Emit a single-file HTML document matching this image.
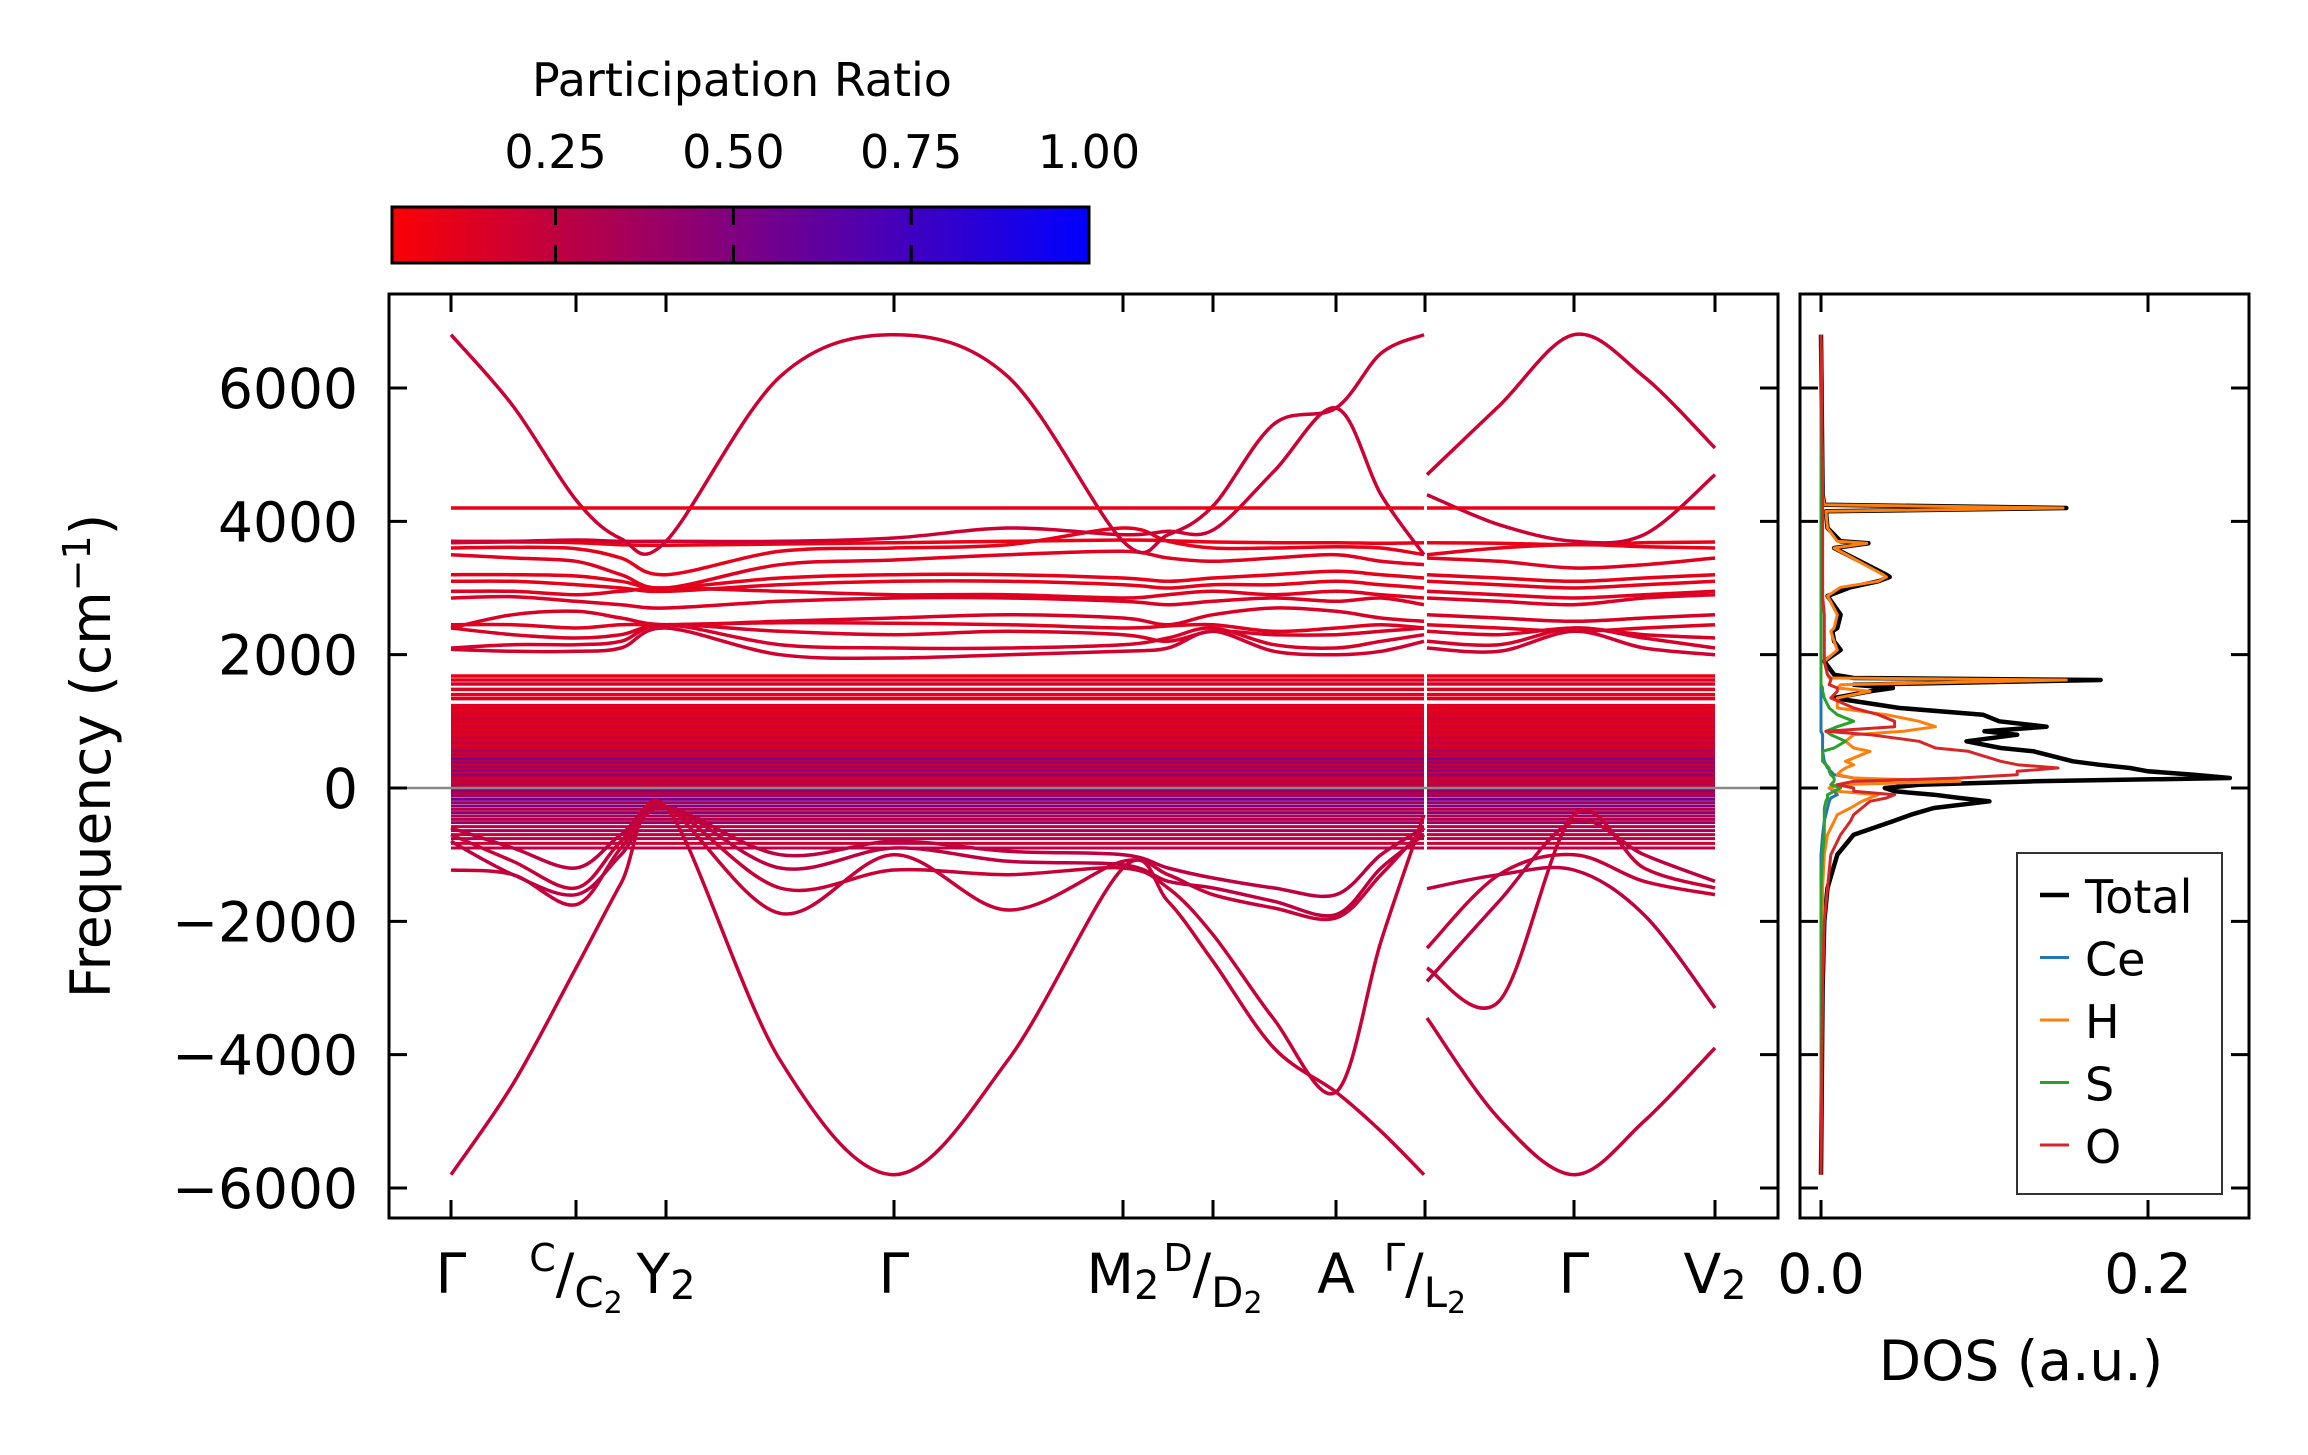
<!DOCTYPE html>
<html><head><meta charset="utf-8"><style>
html,body{margin:0;padding:0;background:#fff;}
svg{display:block;font-family:"DejaVu Sans","Liberation Sans",sans-serif;}
</style></head><body>
<svg id="fig" width="2308" height="1455" viewBox="0 0 2308 1455" xmlns="http://www.w3.org/2000/svg">
<defs><linearGradient id="cmap" x1="0" x2="1" y1="0" y2="0"><stop offset="0" stop-color="rgb(250,0,5)"/><stop offset="1" stop-color="rgb(0,0,255)"/></linearGradient>
<clipPath id="clipMain"><rect x="389" y="294" width="1389" height="924"/></clipPath>
<clipPath id="clipDos"><rect x="1800" y="294" width="449" height="924"/></clipPath></defs>
<g id="colorbar">
<text x="742" y="96" font-size="46" text-anchor="middle">Participation Ratio</text>
<rect x="392" y="207" width="697" height="56" fill="url(#cmap)" stroke="#000" stroke-width="3"/>
</g>
<g id="bands" clip-path="url(#clipMain)"></g>
<g id="dos" clip-path="url(#clipDos)"></g>
<g id="axes"></g>
</svg>
<script>
const NS="http://www.w3.org/2000/svg";
// ---- data ----
const kTicks=[0,125,215,443,672,762,885,974,1123,1264];
const kA=[0,62,125,170,215,329,443,557,672,717,762,823,885,930,974];
const kB=[974,1048,1123,1193,1264];
const yTicks=[-6000,-4000,-2000,0,2000,4000,6000];
const cbTicks=[0.25,0.5,0.75,1.0];
const cbTickLabels=["0.25","0.50","0.75","1.00"];
const dosTicks=[0.0,0.2];
const dosTickLabels=["0.0","0.2"];
const dispA=[
[6800,5730,4320,3740,3700,6170,6800,6170,3700,3800,4230,5460,5700,6520,6800],
[3700,3700,3720,3700,3700,3700,3750,3900,3800,3850,3870,4750,5700,4400,3500],
[4200,4200,4200,4200,4200,4200,4200,4200,4200,4200,4200,4200,4200,4200,4200],
[-5800,-4440,-2700,-1430,-280,-4080,-5800,-4080,-1200,-1700,-2600,-3900,-4560,-5150,-5800],
[-1230,-1300,-1750,-900,-280,-1500,-1230,-1300,-1200,-1500,-2200,-3470,-4560,-2300,-400],
[-700,-1100,-1500,-800,-280,-1880,-1000,-1830,-1100,-1300,-1600,-1800,-1950,-1300,-600],
[-800,-1300,-1600,-1000,-280,-1200,-900,-1100,-1150,-1400,-1500,-1700,-1900,-1200,-700],
[-600,-900,-1200,-700,-280,-1000,-800,-950,-1000,-1200,-1350,-1500,-1600,-1000,-600]
];
const dispB=[
[4700,5730,6800,6170,5100],
[4400,3950,3700,3800,4700],
[4200,4200,4200,4200,4200],
[-3450,-4960,-5800,-5000,-3900],
[-2400,-1300,-1000,-1400,-1600],
[-2700,-3200,-400,-1200,-1500],
[-2900,-1700,-500,-1000,-1400],
[-1510,-1300,-1230,-1900,-3300]
];
const dispPR=[0.2,0.2,0.08,0.22,0.22,0.22,0.25,0.25];
const upperA=[
[3680,3690,3680,3650,3640,3660,3680,3700,3720,3710,3690,3680,3680,3670,3680],
[3600,3610,3590,3450,3200,3550,3600,3650,3900,3700,3600,3600,3620,3600,3500],
[3500,3450,3400,3200,3000,3350,3420,3500,3550,3450,3400,3450,3500,3400,3350],
[3200,3200,3180,3100,3000,3150,3200,3200,3150,3100,3150,3200,3250,3200,3150],
[3100,3100,3050,3000,2950,3050,3100,3100,3050,3000,3050,3050,3100,3050,3000],
[2950,2950,2900,2950,3000,2950,2900,2900,2850,2900,2950,2900,2950,2900,2850],
[2850,2870,2800,2750,2700,2800,2850,2850,2800,2750,2800,2850,2800,2850,2750],
[2400,2600,2650,2550,2450,2500,2550,2600,2550,2450,2600,2700,2650,2550,2500],
[2450,2450,2400,2450,2450,2480,2470,2450,2400,2430,2450,2350,2400,2450,2400],
[2400,2300,2250,2300,2450,2350,2300,2350,2300,2200,2350,2300,2300,2350,2400],
[2100,2150,2150,2200,2450,2150,2100,2100,2150,2250,2400,2150,2100,2200,2300],
[2080,2050,2050,2100,2400,2000,1950,2000,2050,2100,2350,2050,2000,2050,2200]
];
const upperB=[
[3680,3670,3650,3680,3690],[3500,3600,3650,3620,3600],[3450,3400,3300,3350,3450],
[3200,3150,3100,3150,3200],[3100,3050,3000,3050,3100],[2950,2900,2850,2900,2950],
[2850,2800,2750,2850,2900],[2600,2550,2500,2550,2600],[2450,2400,2350,2400,2450],
[2350,2300,2400,2300,2250],[2200,2150,2400,2250,2100],[2100,2050,2350,2100,2000]
];
const upperPR=[0.08,0.1,0.12,0.1,0.1,0.12,0.14,0.15,0.12,0.15,0.16,0.18];
const flatLevels=[1680,1620,1560,1480,1400,1340];
const flatPR=[0.08,0.12,0.15,0.12,0.1,0.15];
const denseLevels=[-900,-830,-760,-700,-640,-580,-520,-470,-420,-370,-320,-270,-220,-170,-120,-80,-40,0,30,60,90,120,150,180,210,240,270,300,330,360,390,420,450,480,510,540,570,600,640,680,720,760,800,840,880,920,960,1000,1040,1080,1120,1160,1200,1240];
const densePR=[0.25,0.2,0.3,0.22,0.35,0.25,0.4,0.3,0.35,0.45,0.3,0.5,0.35,0.55,0.4,0.3,0.45,0.25,0.2,0.3,0.2,0.25,0.2,0.3,0.45,0.2,0.5,0.25,0.4,0.2,0.45,0.25,0.55,0.2,0.3,0.2,0.35,0.2,0.15,0.25,0.15,0.2,0.12,0.18,0.12,0.2,0.1,0.15,0.2,0.12,0.15,0.1,0.15,0.12];
const dosFreq=[-5800,-3000,-2000,-1500,-1000,-700,-500,-400,-300,-200,-150,-100,-50,0,50,100,150,200,250,300,350,400,550,600,700,800,850,920,1000,1100,1200,1350,1450,1500,1550,1620,1650,1700,1900,2070,2200,2350,2400,2600,2880,3010,3100,3165,3200,3600,3670,3700,3900,4150,4200,4250,4400,6800];
const dosTotal=[0,0.001,0.002,0.004,0.010,0.020,0.044,0.055,0.069,0.103,0.085,0.069,0.045,0.039,0.06,0.130,0.250,0.228,0.2,0.189,0.17,0.154,0.130,0.11,0.089,0.120,0.1,0.138,0.109,0.099,0.048,0.008,0.03,0.044,0.02,0.171,0.02,0.008,0.002,0.012,0.008,0.007,0.010,0.012,0.004,0.018,0.035,0.042,0.040,0.008,0.029,0.012,0.004,0.003,0.150,0.002,0.001,0];
const dosCe=[0,0,0,0,0,0.001,0.002,0.003,0.004,0.005,0.006,0.010,0.008,0.005,0.01,0.043,0.020,0.008,0.006,0.004,0.003,0.002,0.001,0.001,0.001,0.001,0,0,0,0,0,0,0,0,0,0,0,0,0,0,0,0,0,0,0,0,0,0,0,0,0,0,0,0,0,0,0,0];
const dosH=[0,0,0.001,0.001,0.002,0.004,0.008,0.010,0.018,0.025,0.030,0.035,0.010,0.005,0.010,0.085,0.020,0.010,0.012,0.015,0.02,0.015,0.030,0.02,0.015,0.020,0.05,0.070,0.060,0.040,0.010,0.010,0.030,0.010,0.012,0.150,0.005,0.004,0.002,0.010,0.008,0.006,0.008,0.010,0.004,0.012,0.035,0.040,0.038,0.008,0.028,0.010,0.004,0.003,0.148,0.002,0.001,0];
const dosS=[0,0,0,0,0.001,0.002,0.002,0.002,0.002,0.003,0.004,0.004,0.008,0.012,0.006,0.008,0.008,0.006,0.005,0.005,0.003,0.001,0.001,0.008,0.015,0.006,0.003,0.010,0.020,0.010,0.005,0.002,0.001,0.001,0,0,0,0,0,0,0,0,0,0,0,0,0,0,0,0,0,0,0,0,0,0,0,0];
const dosO=[0,0.001,0.002,0.004,0.006,0.012,0.018,0.020,0.025,0.030,0.040,0.045,0.020,0.020,0.010,0.020,0.085,0.12,0.120,0.145,0.12,0.110,0.090,0.07,0.060,0.030,0.003,0.045,0.045,0.035,0.020,0.006,0.010,0.010,0.005,0.006,0.006,0.004,0.002,0.002,0.002,0.002,0.002,0.002,0.001,0.001,0.001,0.001,0.001,0.001,0.001,0.001,0.001,0.001,0.001,0.001,0.001,0];
const dosColors=["#000000","#1f77b4","#ff7f0e","#2ca02c","#d62728"];
const dosNames=["Total","Ce","H","S","O"];
// ---- scales ----
const X=k=>451+k*(1715-451)/1264;
const Y=f=>788-f*800/12000;
const DX=v=>1821+v*1635;
const cbX=v=>392+(v-0.02)*697/0.98;
function cmap(p){const t=Math.max(0,Math.min(1,(p-0.02)/0.98));return `rgb(${Math.round(250*(1-t))},0,${Math.round(5+250*t)})`;}
function el(tag,attrs,parent){const e=document.createElementNS(NS,tag);for(const a in attrs)e.setAttribute(a,attrs[a]);parent.appendChild(e);return e;}
function smoothPath(ks,vs,offA,offB){
  const p=ks.map((k,i)=>[X(k),Y(vs[i])]);
  p[0][0]+=offA;p[p.length-1][0]+=offB;
  let d=`M${p[0][0].toFixed(1)},${p[0][1].toFixed(1)}`;
  for(let i=0;i<p.length-1;i++){
    const p0=p[Math.max(0,i-1)],p1=p[i],p2=p[i+1],p3=p[Math.min(p.length-1,i+2)];
    const c1=[p1[0]+(p2[0]-p0[0])/6,p1[1]+(p2[1]-p0[1])/6];
    const c2=[p2[0]-(p3[0]-p1[0])/6,p2[1]-(p3[1]-p1[1])/6];
    d+=` C${c1[0].toFixed(1)},${c1[1].toFixed(1)} ${c2[0].toFixed(1)},${c2[1].toFixed(1)} ${p2[0].toFixed(1)},${p2[1].toFixed(1)}`;
  }
  return d;
}
const gB=document.getElementById('bands');
denseLevels.forEach((f,i)=>{
  [[kA[0],kA[kA.length-1],0,-1],[kB[0],kB[kB.length-1],2,0]].forEach(s=>{
    const l=el('line',{x1:X(s[0])+s[2],x2:X(s[1])+s[3],y1:Y(f),y2:Y(f),stroke:cmap(densePR[i]),'stroke-width':3},gB);
    
    
  });
});
flatLevels.forEach((f,i)=>{
  [[kA[0],kA[kA.length-1],0,-1],[kB[0],kB[kB.length-1],2,0]].forEach(s=>{
    const l=el('line',{x1:X(s[0])+s[2],x2:X(s[1])+s[3],y1:Y(f),y2:Y(f),stroke:cmap(flatPR[i]),'stroke-width':3.5},gB);
    
    
  });
});
upperA.forEach((vals,i)=>{
  const a=el('path',{d:smoothPath(kA,vals,0,-1),fill:'none',stroke:cmap(upperPR[i]),'stroke-width':3.5},gB);
  
  
  const b=el('path',{d:smoothPath(kB,upperB[i],2,0),fill:'none',stroke:cmap(upperPR[i]),'stroke-width':3.5},gB);
  
  
});
dispA.forEach((vals,i)=>{
  const a=el('path',{d:smoothPath(kA,vals,0,-1),fill:'none',stroke:cmap(dispPR[i]),'stroke-width':3.5},gB);
  
  
  const b=el('path',{d:smoothPath(kB,dispB[i],2,0),fill:'none',stroke:cmap(dispPR[i]),'stroke-width':3.5},gB);
  
  
});
const zl=el('line',{x1:389,x2:1778,y1:Y(0),y2:Y(0),stroke:'#888','stroke-width':2.5},gB);


const gD=document.getElementById('dos');
[dosTotal,dosCe,dosH,dosS,dosO].forEach((arr,j)=>{
  const pts=dosFreq.map((f,i)=>`${DX(arr[i]).toFixed(1)},${Y(f).toFixed(1)}`).join(' ');
  const pl=el('polyline',{points:pts,fill:'none',stroke:dosColors[j],'stroke-width':j===0?4.5:3,'stroke-linejoin':'round'},gD);
  
  
});
const gA=document.getElementById('axes');
function frame(x,y,w,h,name){const r=el('rect',{x:x,y:y,width:w,height:h,fill:'none',stroke:'#000','stroke-width':3},gA);}
frame(389,294,1389,924,'band-axes-frame');
frame(1800,294,449,924,'dos-axes-frame');
yTicks.forEach(v=>{
  [[389,18],[1778,-18],[1800,18],[2249,-18]].forEach(s=>{
    const t=el('line',{x1:s[0],x2:s[0]+s[1],y1:Y(v),y2:Y(v),stroke:'#000','stroke-width':3},gA);
    
    
  });
  const tl=el('text',{x:358,y:Y(v)+20,'font-size':55,'text-anchor':'end'},gA);
  tl.textContent=(v<0?'\u2212':'')+Math.abs(v);
  
  
});
kTicks.forEach(k=>{
  [[294,18],[1218,-18]].forEach(s=>{
    const t=el('line',{x1:X(k),x2:X(k),y1:s[0],y2:s[0]+s[1],stroke:'#000','stroke-width':3},gA);
    
    
  });
});
dosTicks.forEach((v,i)=>{
  [[294,18],[1218,-18]].forEach(s=>{
    const t=el('line',{x1:DX(v),x2:DX(v),y1:s[0],y2:s[0]+s[1],stroke:'#000','stroke-width':3},gA);
    
    
  });
  const tl=el('text',{x:DX(v),y:1293,'font-size':55,'text-anchor':'middle'},gA);
  tl.textContent=dosTickLabels[i];
  
  
});
const kLabelHTML=[
 'Γ',
 '<tspan font-size="38" dy="-22">C</tspan><tspan dy="22">/</tspan><tspan dy="14" font-size="42">C</tspan><tspan font-size="30" dy="6">2</tspan>',
 'Y<tspan font-size="40" dy="6">2</tspan>',
 'Γ',
 'M<tspan font-size="40" dy="6">2</tspan>',
 '<tspan font-size="38" dy="-22">D</tspan><tspan dy="22">/</tspan><tspan dy="14" font-size="42">D</tspan><tspan font-size="30" dy="6">2</tspan>',
 'A',
 '<tspan font-size="38" dy="-22">Γ</tspan><tspan dy="22">/</tspan><tspan dy="14" font-size="42">L</tspan><tspan font-size="30" dy="6">2</tspan>',
 'Γ',
 'V<tspan font-size="40" dy="6">2</tspan>'
];
const kLabelShift=[0,0,0,0,0,0,0,0,0,0];
kTicks.forEach((k,i)=>{
  const t=el('text',{x:X(k)+kLabelShift[i],y:1293,'font-size':55,'text-anchor':'middle'},gA);
  t.innerHTML=kLabelHTML[i];
  
  
});
const yl=el('text',{x:0,y:0,'font-size':55,'text-anchor':'middle',transform:'translate(110,756) rotate(-90)'},gA);
yl.innerHTML='Frequency (cm<tspan font-size="38" dy="-20">\u22121</tspan><tspan dy="20">)</tspan>';


const dl=el('text',{x:2021,y:1380,'font-size':55,'text-anchor':'middle'},gA);
dl.textContent='DOS (a.u.)';


const gC=document.getElementById('colorbar');
cbTicks.forEach((v,i)=>{
  if(v<1){
    [[207,18],[263,-18]].forEach(s=>{
      const t=el('line',{x1:cbX(v),x2:cbX(v),y1:s[0],y2:s[0]+s[1],stroke:'#000','stroke-width':3},gC);
      
      
    });
  }
  const tl=el('text',{x:cbX(v),y:168,'font-size':46,'text-anchor':'middle'},gC);
  tl.textContent=cbTickLabels[i];
  
  
});
const gL=el('g',{},gA);


el('rect',{x:2017,y:853,width:205,height:341,fill:'#fff',stroke:'#333','stroke-width':2},gL);
dosNames.forEach((n,i)=>{
  const by=913+i*62.5;
  const ln=el('line',{x1:2040,x2:2069,y1:by-18,y2:by-18,stroke:dosColors[i],'stroke-width':i===0?4.5:3},gL);
  
  
  const tx=el('text',{x:2085,y:by,'font-size':46},gL);
  tx.textContent=n;
  
  
});
</script>
</body></html>
